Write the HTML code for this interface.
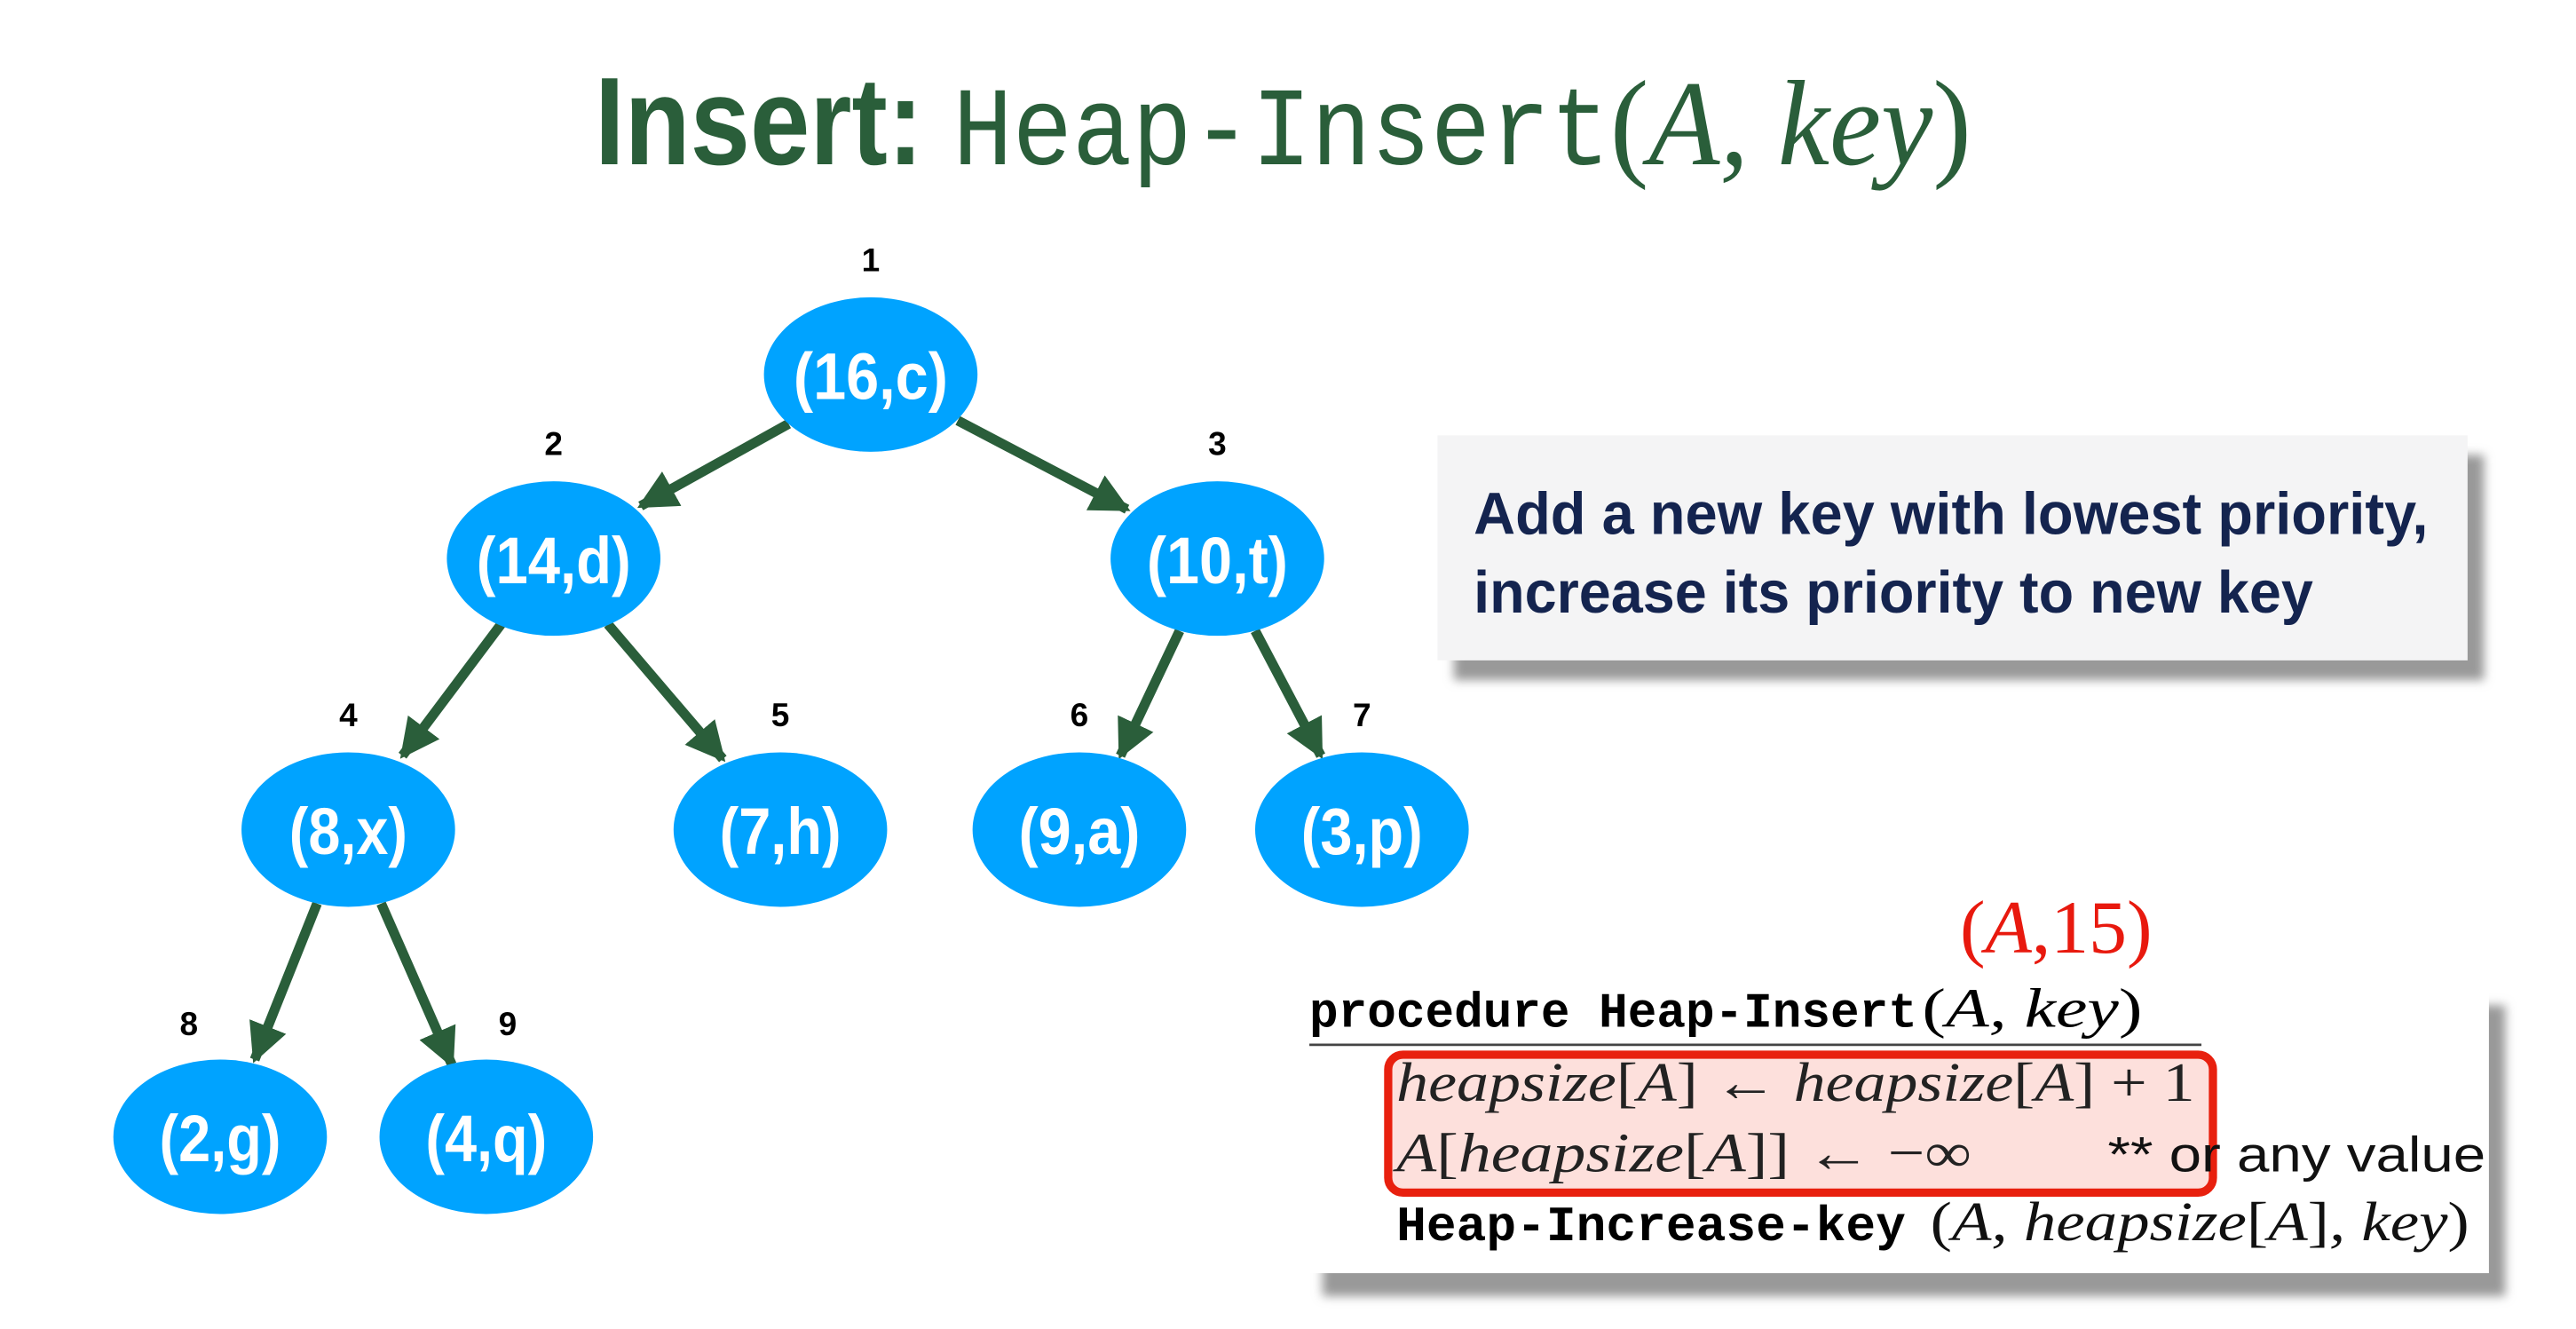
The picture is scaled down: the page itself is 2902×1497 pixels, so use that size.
<!DOCTYPE html>
<html><head><meta charset="utf-8"><style>
html,body{margin:0;padding:0;background:#fff;}
svg{display:block;}
</style></head><body>
<svg width="2902" height="1497" viewBox="0 0 1568 809" preserveAspectRatio="none" xmlns="http://www.w3.org/2000/svg">
<defs>
<marker id="ah" viewBox="0 0 10 10" refX="9" refY="5" markerWidth="4" markerHeight="4" orient="auto" markerUnits="strokeWidth">
<path d="M0,0 L10,5 L0,10 z" fill="#2a5e3a"/>
</marker>
<filter id="sh" x="-10%" y="-10%" width="130%" height="140%"><feGaussianBlur stdDeviation="3"/></filter>
</defs>
<!-- Title -->
<text x="362" y="100" font-family="Liberation Sans, sans-serif" font-weight="bold" font-size="76" fill="#2a5e3a" textLength="200" lengthAdjust="spacingAndGlyphs">Insert:</text>
<text x="580" y="100" font-family="Liberation Mono, monospace" font-size="68" fill="#2a5e3a" textLength="400" lengthAdjust="spacingAndGlyphs">Heap-Insert</text>
<text x="980" y="100" font-family="Liberation Serif, serif" font-size="74" fill="#2a5e3a" font-style="italic" textLength="220" lengthAdjust="spacingAndGlyphs"><tspan font-style="normal">(</tspan>A, key<tspan font-style="normal">)</tspan></text>

<!-- edges -->
<g stroke="#2a5e3a" stroke-width="6" fill="none" marker-end="url(#ah)">
<line x1="480" y1="258" x2="390" y2="308"/>
<line x1="583" y1="256" x2="686" y2="310"/>
<line x1="305" y1="380" x2="245" y2="460"/>
<line x1="370" y1="380" x2="440" y2="462"/>
<line x1="718" y1="384" x2="682" y2="460"/>
<line x1="764" y1="384" x2="804" y2="460"/>
<line x1="193" y1="550" x2="155" y2="645"/>
<line x1="232" y1="550" x2="275" y2="648"/>
</g>

<!-- nodes -->
<g fill="#00a3ff">
<ellipse cx="530" cy="228" rx="65" ry="47"/>
<ellipse cx="337" cy="340" rx="65" ry="47"/>
<ellipse cx="741" cy="340" rx="65" ry="47"/>
<ellipse cx="212" cy="505" rx="65" ry="47"/>
<ellipse cx="475" cy="505" rx="65" ry="47"/>
<ellipse cx="657" cy="505" rx="65" ry="47"/>
<ellipse cx="829" cy="505" rx="65" ry="47"/>
<ellipse cx="134" cy="692" rx="65" ry="47"/>
<ellipse cx="296" cy="692" rx="65" ry="47"/>
</g>
<g font-family="Liberation Sans, sans-serif" font-weight="bold" font-size="40" fill="#fff" text-anchor="middle">
<text x="530" y="243" textLength="94" lengthAdjust="spacingAndGlyphs">(16,c)</text>
<text x="337" y="355" textLength="94" lengthAdjust="spacingAndGlyphs">(14,d)</text>
<text x="741" y="355" textLength="86" lengthAdjust="spacingAndGlyphs">(10,t)</text>
<text x="212" y="520" textLength="72" lengthAdjust="spacingAndGlyphs">(8,x)</text>
<text x="475" y="520" textLength="74" lengthAdjust="spacingAndGlyphs">(7,h)</text>
<text x="657" y="520" textLength="74" lengthAdjust="spacingAndGlyphs">(9,a)</text>
<text x="829" y="520" textLength="74" lengthAdjust="spacingAndGlyphs">(3,p)</text>
<text x="134" y="707" textLength="74" lengthAdjust="spacingAndGlyphs">(2,g)</text>
<text x="296" y="707" textLength="74" lengthAdjust="spacingAndGlyphs">(4,q)</text>
</g>
<g font-family="Liberation Sans, sans-serif" font-weight="bold" font-size="20" fill="#000" text-anchor="middle">
<text x="530" y="165">1</text>
<text x="337" y="277">2</text>
<text x="741" y="277">3</text>
<text x="212" y="442">4</text>
<text x="475" y="442">5</text>
<text x="657" y="442">6</text>
<text x="829" y="442">7</text>
<text x="115" y="630">8</text>
<text x="309" y="630">9</text>
</g>

<!-- info box -->
<rect x="885" y="277" width="627" height="137" fill="#999" filter="url(#sh)"/>
<rect x="875" y="265" width="627" height="137" fill="#f4f4f5"/>
<g font-family="Liberation Sans, sans-serif" font-weight="bold" font-size="36" fill="#14244f">
<text x="897" y="325" textLength="581" lengthAdjust="spacingAndGlyphs">Add a new key with lowest priority,</text>
<text x="897" y="373" textLength="511" lengthAdjust="spacingAndGlyphs">increase its priority to new key</text>
</g>

<!-- code box -->
<rect x="805" y="612" width="720" height="177" fill="#999" filter="url(#sh)"/>
<rect x="797" y="598" width="718" height="177" fill="#fff"/>
<text x="1193" y="580" font-family="Liberation Serif, serif" font-size="46" fill="#e8190e" textLength="117" lengthAdjust="spacingAndGlyphs">(<tspan font-style="italic">A</tspan>,15)</text>
<text x="797" y="625" font-family="Liberation Mono, monospace" font-weight="bold" font-size="30" fill="#000" textLength="370" lengthAdjust="spacingAndGlyphs">procedure Heap-Insert</text>
<text x="1170" y="625" font-family="Liberation Serif, serif" font-size="34" fill="#000" font-style="italic" textLength="134" lengthAdjust="spacingAndGlyphs"><tspan font-style="normal">(</tspan>A, key<tspan font-style="normal">)</tspan></text>
<line x1="797" y1="636" x2="1340" y2="636" stroke="#444" stroke-width="1.5"/>
<rect x="845" y="642" width="502" height="84" rx="9" fill="#fde0dc" stroke="#e8200e" stroke-width="5"/>
<g font-family="Liberation Serif, serif" font-size="34" fill="#222" font-style="italic">
<text x="850" y="670" textLength="486" lengthAdjust="spacingAndGlyphs">heapsize<tspan font-style="normal">[</tspan>A<tspan font-style="normal">] ← </tspan>heapsize<tspan font-style="normal">[</tspan>A<tspan font-style="normal">] + 1</tspan></text>
<text x="850" y="713" textLength="350" lengthAdjust="spacingAndGlyphs">A<tspan font-style="normal">[</tspan>heapsize<tspan font-style="normal">[</tspan>A<tspan font-style="normal">]] ← −∞</tspan></text>
</g>
<text x="1283" y="713" font-family="Liberation Sans, sans-serif" font-size="30" fill="#111" textLength="230" lengthAdjust="spacingAndGlyphs">** or any value</text>
<text x="850" y="755" font-family="Liberation Mono, monospace" font-weight="bold" font-size="30" fill="#000" textLength="310" lengthAdjust="spacingAndGlyphs">Heap-Increase-key</text>
<text x="1175" y="755" font-family="Liberation Serif, serif" font-size="34" fill="#111" font-style="italic" textLength="328" lengthAdjust="spacingAndGlyphs"><tspan font-style="normal">(</tspan>A, heapsize<tspan font-style="normal">[</tspan>A<tspan font-style="normal">]</tspan>, key<tspan font-style="normal">)</tspan></text>
</svg>
</body></html>
